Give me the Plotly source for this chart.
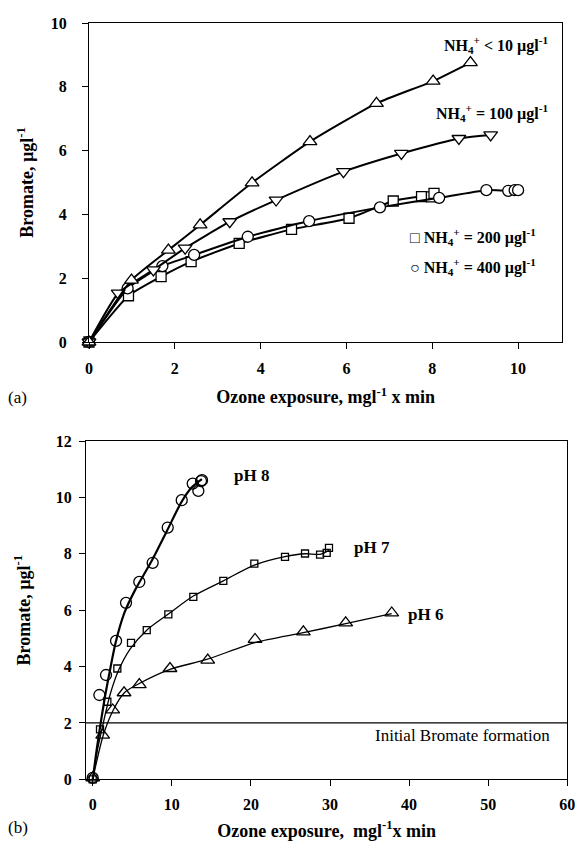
import plotly.graph_objects as go

# ---------------- panel (a) data ----------------
nh10_x = [0, 0.99, 1.85, 2.59, 3.80, 5.15, 6.70, 8.02, 8.89]
nh10_y = [0, 1.94, 2.88, 3.67, 4.99, 6.28, 7.48, 8.18, 8.76]
nh100_x = [0, 0.68, 1.50, 2.24, 3.28, 4.36, 5.93, 7.28, 8.62, 9.36]
nh100_y = [0, 1.53, 2.26, 2.94, 3.77, 4.45, 5.34, 5.91, 6.38, 6.49]
nh200_x = [0, 0.92, 1.68, 2.38, 3.50, 4.72, 6.06, 7.09, 7.75, 7.98, 8.04]
nh200_y = [0, 1.45, 2.05, 2.52, 3.09, 3.53, 3.88, 4.42, 4.56, 4.55, 4.66]
nh400_x = [0, 0.90, 1.71, 2.45, 3.70, 5.13, 6.78, 8.16, 9.26, 9.77, 9.92, 10.0]
nh400_y = [0, 1.68, 2.38, 2.73, 3.30, 3.79, 4.22, 4.52, 4.76, 4.74, 4.76, 4.76]

# ---------------- panel (b) data ----------------
ph8_x = [0, 0.84, 1.68, 2.95, 4.21, 5.89, 7.58, 9.48, 11.25, 12.64, 13.35, 13.69, 13.82]
ph8_y = [0.05, 2.99, 3.70, 4.91, 6.26, 7.00, 7.68, 8.93, 9.90, 10.49, 10.23, 10.58, 10.61]
ph7_x = [0, 0.92, 1.85, 3.11, 4.84, 6.83, 9.56, 12.72, 16.51, 20.43, 24.31, 26.84, 28.74, 29.58, 29.87]
ph7_y = [0, 1.77, 2.75, 3.93, 4.84, 5.29, 5.85, 6.47, 7.04, 7.65, 7.89, 8.01, 7.97, 8.03, 8.21]
ph6_x = [0, 1.26, 2.53, 3.96, 5.89, 9.77, 14.54, 20.52, 26.63, 31.98, 37.80]
ph6_y = [0.05, 1.57, 2.46, 3.07, 3.36, 3.93, 4.23, 4.96, 5.23, 5.55, 5.90]

# fitted curves
ph8_fit_x = [0, 0.5, 0.92, 1.5, 2.0, 2.9, 4.0, 5.35, 7.46, 9.36, 11.25, 12.5, 13.8]
ph8_fit_y = [0, 1.05, 1.84, 2.85, 3.6, 4.85, 5.9, 6.71, 7.75, 8.8, 9.85, 10.35, 10.65]
ph7_fit_x = [0, 0.5, 1.14, 2.19, 3.24, 4.72, 6.83, 9.56, 12.72, 16.51, 20.43, 24.31, 26.84, 28.74, 29.87]
ph7_fit_y = [0, 0.9, 1.75, 3.0, 3.85, 4.62, 5.29, 5.86, 6.5, 7.04, 7.6, 7.9, 8.0, 7.98, 8.12]
ph6_fit_x = [0, 1.34, 2.6, 4.0, 5.77, 9.77, 14.4, 20.52, 26.63, 31.98, 37.8]
ph6_fit_y = [0, 1.57, 2.46, 3.07, 3.38, 3.9, 4.25, 4.85, 5.2, 5.52, 5.88]

top_xticks = [0, 2, 4, 6, 8, 10]
top_yticks = [0, 2, 4, 6, 8, 10]
bot_xticks = [0, 10, 20, 30, 40, 50, 60]
bot_yticks = [0, 2, 4, 6, 8, 10, 12]
init_level = 2

FONT = "Liberation Serif, Times New Roman, serif"
fig = go.Figure()

for xs, ys, sym, sz in [(nh200_x, nh200_y, "square", 10),
                        (nh400_x, nh400_y, "circle", 11),
                        (nh100_x, nh100_y, "triangle-down", 12),
                        (nh10_x, nh10_y, "triangle-up", 12)]:
    fig.add_trace(go.Scatter(
        x=xs, y=ys, mode="lines+markers", xaxis="x", yaxis="y",
        line=dict(color="black", width=2, shape="spline", smoothing=0.5),
        marker=dict(symbol=sym, size=sz, color="white",
                    line=dict(color="black", width=1.3)),
        cliponaxis=False, showlegend=False))

# panel b: fits then markers
for fx, fy, w in [(ph8_fit_x, ph8_fit_y, 2.2), (ph7_fit_x, ph7_fit_y, 1.3),
                  (ph6_fit_x, ph6_fit_y, 1.3)]:
    fig.add_trace(go.Scatter(
        x=fx, y=fy, mode="lines", xaxis="x2", yaxis="y2",
        line=dict(color="black", width=w, shape="spline", smoothing=0.8),
        showlegend=False))
for xs, ys, sym, sz in [(ph8_x, ph8_y, "circle", 11),
                        (ph7_x, ph7_y, "square", 7),
                        (ph6_x, ph6_y, "triangle-up", 12)]:
    fig.add_trace(go.Scatter(
        x=xs, y=ys, mode="markers", xaxis="x2", yaxis="y2",
        marker=dict(symbol=sym, size=sz, color="rgba(255,255,255,0)",
                    line=dict(color="black", width=1.3)),
        cliponaxis=False, showlegend=False))

# initial bromate horizontal line
fig.add_trace(go.Scatter(
    x=[-0.85, 60], y=[init_level, init_level], mode="lines",
    xaxis="x2", yaxis="y2", line=dict(color="black", width=1.3),
    showlegend=False, hoverinfo="skip"))

axcommon = dict(showline=True, linecolor="black", linewidth=1.3, mirror=True,
                ticks="outside", ticklen=6, tickwidth=1.3, tickcolor="black",
                showgrid=False, zeroline=False, automargin=False,
                tickfont=dict(family=FONT, size=16, color="black", weight="bold"))
titlefont = dict(family=FONT, size=18, color="black", weight="bold")

fig.update_layout(
    width=581, height=842, margin=dict(l=0, r=0, t=0, b=0),
    paper_bgcolor="white", plot_bgcolor="white",
    font=dict(family=FONT),
    xaxis=dict(domain=[89/581, 562.3/581], range=[0, 11.03], tickvals=top_xticks,
               anchor="y", ticklabelstandoff=6,
               title=dict(text="Ozone exposure, mgl<sup>-1</sup> x min", font=titlefont, standoff=14),
               **axcommon),
    yaxis=dict(domain=[1-342/842, 1-23/842], range=[0, 10], tickvals=top_yticks,
               anchor="x", ticklabelstandoff=12,
               title=dict(text="Bromate, µgl<sup>-1</sup>", font=titlefont, standoff=12),
               **axcommon),
    xaxis2=dict(domain=[86/581, 567.3/581], range=[-0.85, 60], tickvals=bot_xticks,
                anchor="y2", ticklabelstandoff=4,
                title=dict(text="Ozone exposure,  mgl<sup>-1</sup>x min", font=titlefont, standoff=12),
                **axcommon),
    yaxis2=dict(domain=[1-779.3/842, 1-441/842], range=[0, 12], tickvals=bot_yticks,
                anchor="x2", ticklabelstandoff=4,
                title=dict(text="Bromate, µgl<sup>-1</sup>", font=titlefont, standoff=20),
                **axcommon),
)

lab = dict(family=FONT, size=16, color="black", weight="bold")
lab2 = dict(family=FONT, size=17, color="black", weight="bold")
annots = [
    dict(x=10.75, y=9.3, xref="x", yref="y", xanchor="right", yanchor="middle",
         text="NH<sub>4</sub><sup>+</sup> < 10 µgl<sup>-1</sup>", font=lab, showarrow=False),
    dict(x=10.75, y=7.18, xref="x", yref="y", xanchor="right", yanchor="middle",
         text="NH<sub>4</sub><sup>+</sup> = 100 µgl<sup>-1</sup>", font=lab, showarrow=False),
    dict(x=7.43, y=3.29, xref="x", yref="y", xanchor="left", yanchor="middle",
         text="□ NH<sub>4</sub><sup>+</sup> = 200 µgl<sup>-1</sup>", font=lab, showarrow=False),
    dict(x=7.43, y=2.35, xref="x", yref="y", xanchor="left", yanchor="middle",
         text="○ NH<sub>4</sub><sup>+</sup> = 400 µgl<sup>-1</sup>", font=lab, showarrow=False),
    dict(x=17.6, y=10.78, xref="x2", yref="y2", xanchor="left", yanchor="middle",
         text="pH 8", font=lab2, showarrow=False),
    dict(x=32.8, y=8.23, xref="x2", yref="y2", xanchor="left", yanchor="middle",
         text="pH 7", font=lab2, showarrow=False),
    dict(x=39.6, y=5.86, xref="x2", yref="y2", xanchor="left", yanchor="middle",
         text="pH 6", font=lab2, showarrow=False),
    dict(x=46.8, y=1.57, xref="x2", yref="y2", xanchor="center", yanchor="middle",
         text="Initial Bromate formation",
         font=dict(family=FONT, size=17, color="black"), showarrow=False),
    dict(x=6/581, y=1-397/842, xref="paper", yref="paper", xanchor="left", yanchor="middle",
         text="(a)", font=dict(family=FONT, size=17, color="black"), showarrow=False),
    dict(x=6/581, y=1-827/842, xref="paper", yref="paper", xanchor="left", yanchor="middle",
         text="(b)", font=dict(family=FONT, size=17, color="black"), showarrow=False),
]
fig.update_layout(annotations=annots)

fig.write_html("out.html", config={"displayModeBar": False})

# remove the browser's default 8px body margin so the figure fills the window
with open("out.html", "r", encoding="utf-8") as f:
    html = f.read()
html = html.replace("<head>", "<head><style>html,body{margin:0;padding:0;}</style>", 1)
with open("out.html", "w", encoding="utf-8") as f:
    f.write(html)
